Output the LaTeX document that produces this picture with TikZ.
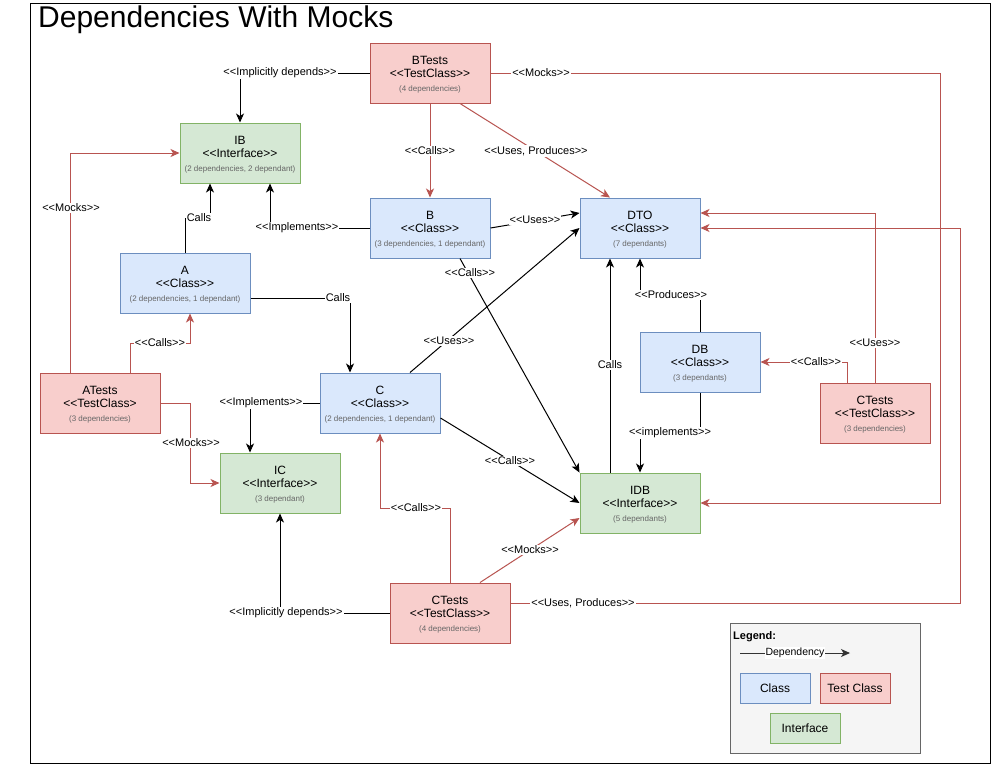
\documentclass[tikz,border=0pt]{standalone}
\usepackage{fontspec}
\newfontfamily\af{Liberation Sans}
\usetikzlibrary{arrows.meta,calc}
\definecolor{clsFill}{HTML}{DAE8FC}
\definecolor{clsLine}{HTML}{6C8EBF}
\definecolor{tstFill}{HTML}{F8CECC}
\definecolor{tstLine}{HTML}{B85450}
\definecolor{ifcFill}{HTML}{D5E8D4}
\definecolor{ifcLine}{HTML}{82B366}
\definecolor{smallGray}{HTML}{666666}
\definecolor{legFill}{HTML}{F5F5F5}
\definecolor{legLine}{HTML}{666666}
\newcommand\ubox[8]{%
  \node[#2, minimum width=#5pt] (#1) at (#3,#4) {};
  \node[ttl] (#1-a) at ($(#1.center)+(0,-9)$) {#6};
  \node[ttl] (#1-b) at ($(#1.center)+(0,4.5)$) {#7};
  \node[sml] (#1-c) at ($(#1.center)+(0,18.5)$) {#8};
}
\begin{document}
\begin{tikzpicture}[x=1pt,y=-1pt,
  umlbox/.style={rectangle, minimum height=60pt, inner sep=0pt, line width=1pt},
  cls/.style={umlbox, draw=clsLine, fill=clsFill},
  tst/.style={umlbox, draw=tstLine, fill=tstFill},
  ifc/.style={umlbox, draw=ifcLine, fill=ifcFill},
  ttl/.style={anchor=base, inner sep=0pt, font=\af\fontsize{12}{14}\selectfont},
  sml/.style={anchor=base, inner sep=0pt, text=smallGray, font=\af\fontsize{8}{10}\selectfont},
  lbl/.style={fill=white, inner sep=1pt, font=\af\fontsize{11}{13}\selectfont},
  blkedge/.style={draw=black, line width=1pt, -{Stealth[length=9pt,width=8pt,inset=2.5pt]}},
  rededge/.style={draw=tstLine, line width=1pt, -{Stealth[length=9pt,width=8pt,inset=2.5pt]}},
  legtxt/.style={font=\af\fontsize{12}{14}\selectfont}
]
\useasboundingbox (0,0) rectangle (991,764);
\fill[white] (0,0) rectangle (991,764);
\draw[line width=1pt] (30,3) rectangle (990,763);
\node[anchor=base west, inner sep=0pt, font=\af\fontsize{30}{35}\selectfont] (title) at (38,27) {Dependencies With Mocks};

% boxes
\ubox{BTests}{tst}{430}{73}{120}{BTests}{<<TestClass>>}{(4 dependencies)}
\ubox{IB}{ifc}{240}{153}{120}{IB}{<<Interface>>}{(2 dependencies, 2 dependant)}
\ubox{B}{cls}{430}{228}{120}{B}{<<Class>>}{(3 dependencies, 1 dependant)}
\ubox{DTO}{cls}{640}{228}{120}{DTO}{<<Class>>}{(7 dependants)}
\ubox{A}{cls}{185}{283}{130}{A}{<<Class>>}{(2 dependencies, 1 dependant)}
\ubox{C}{cls}{380}{403}{120}{C}{<<Class>>}{(2 dependencies, 1 dependant)}
\ubox{ATests}{tst}{100}{403}{120}{ATests}{<<TestClass>}{(3 dependencies)}
\ubox{IC}{ifc}{280}{483}{120}{IC}{<<Interface>>}{(3 dependant)}
\ubox{DB}{cls}{700}{362}{120}{DB}{<<Class>>}{(3 dependants)}
\ubox{CT2}{tst}{875}{413}{110}{CTests}{<<TestClass>>}{(3 dependencies)}
\ubox{IDB}{ifc}{640}{503}{120}{IDB}{<<Interface>>}{(5 dependants)}
\ubox{CT1}{tst}{450}{613}{120}{CTests}{<<TestClass>>}{(4 dependencies)}

% connectors
\draw[blkedge] (BTests.west) -| (IB.north);
\draw[rededge] (BTests.east) -| (940,503) -- (IDB.east);
\draw[rededge] (BTests.south) -- (B.north);
\draw[rededge] ([xshift=30pt]BTests.south) -- ([xshift=-30pt]DTO.north);
\draw[blkedge] (A.north) -- (185,218) -| ([xshift=-30pt]IB.south);
\draw[blkedge] (B.west) -| ([xshift=30pt]IB.south);
\draw[blkedge] ([yshift=-15pt]A.east) -| ([xshift=-30pt]C.north);
\draw[rededge] ([xshift=-30pt]ATests.north) |- (IB.west);
\draw[rededge] ([xshift=30pt]ATests.north) -- (130,343) -| ([xshift=5pt]A.south);
\draw[rededge] (ATests.east) -| (190,483) -- (IC.west);
\draw[blkedge] (C.west) -| ([xshift=-30pt]IC.north);
\draw[blkedge] (B.east) -- ([yshift=15pt]DTO.west);
\draw[blkedge] ([xshift=30pt]C.north) -- (DTO.west);
\draw[blkedge] ([xshift=30pt]B.south) -- (IDB.north west);
\draw[blkedge] ([yshift=-15pt]C.east) -- (IDB.west);
\draw[blkedge] ([xshift=-30pt]IDB.north) -- ([xshift=-30pt]DTO.south);
\draw[blkedge] (DB.north) -- (700,295) -| (DTO.south);
\draw[blkedge] (DB.south) -- (700,433) -| (IDB.north);
\draw[rededge] ([xshift=-27.5pt]CT2.north) |- (DB.east);
\draw[rededge] (CT2.north) |- ([yshift=15pt]DTO.east);
\draw[rededge] ([yshift=10pt]CT1.east) -| (960,228) -- (DTO.east);
\draw[rededge] (CT1.north) -- (450,508) -| (C.south);
\draw[rededge] ([xshift=30pt]CT1.north) -- ([yshift=-15pt]IDB.west);
\draw[blkedge] (CT1.west) -| (IC.south);

% labels
\node[lbl] (l1) at (280,73) {<<Implicitly depends>>};
\node[lbl] (l2) at (541,73) {<<Mocks>>};
\node[lbl] (l3) at (430,151) {<<Calls>>};
\node[lbl] (l4) at (536,151) {<<Uses, Produces>>};
\node[lbl] (l5) at (199,218) {Calls};
\node[lbl] (l6) at (297,228) {<<Implements>>};
\node[lbl] (l7) at (338,298) {Calls};
\node[lbl] (l8) at (71,208) {<<Mocks>>};
\node[lbl] (l9) at (160,343) {<<Calls>>};
\node[lbl] (l10) at (191,443) {<<Mocks>>};
\node[lbl] (l11) at (261,403) {<<Implements>>};
\node[lbl] (l12) at (535,220) {<<Uses>>};
\node[lbl] (l13) at (449,341) {<<Uses>>};
\node[lbl] (l14) at (470,273) {<<Calls>>};
\node[lbl] (l15) at (510,461) {<<Calls>>};
\node[lbl] (l16) at (610,365) {Calls};
\node[lbl] (l17) at (671,295) {<<Produces>>};
\node[lbl] (l18) at (670,433) {<<implements>>};
\node[lbl] (l19) at (816,362) {<<Calls>>};
\node[lbl] (l20) at (875,343) {<<Uses>>};
\node[lbl] (l21) at (583,603) {<<Uses, Produces>>};
\node[lbl] (l22) at (416,508) {<<Calls>>};
\node[lbl] (l23) at (530,550) {<<Mocks>>};
\node[lbl] (l24) at (286,613) {<<Implicitly depends>>};

% legend
\node[rectangle, draw=legLine, fill=legFill, line width=1pt, minimum width=190pt, minimum height=130pt, inner sep=0pt] (leg) at (825,688) {};
\node[anchor=west, inner sep=0pt, font=\af\bfseries\fontsize{11}{13}\selectfont] (legt) at (733,637) {Legend:};
\coordinate (d1) at (740,653);
\coordinate (d2) at (850,653);
\draw[draw=black!80, line width=1pt, -{Stealth[length=9pt,width=8pt,inset=2.5pt]}] (d1) -- (d2);
\node[lbl, font=\af\fontsize{10.5}{12}\selectfont] (legd) at (795,653) {Dependency};
\node[cls, minimum width=70pt, minimum height=30pt, legtxt] (lc) at (775,688) {Class};
\node[tst, minimum width=70pt, minimum height=30pt, legtxt] (lt) at (855,688) {Test Class};
\node[ifc, minimum width=70pt, minimum height=30pt, legtxt] (li) at (805,728) {Interface};
\end{tikzpicture}
\end{document}
